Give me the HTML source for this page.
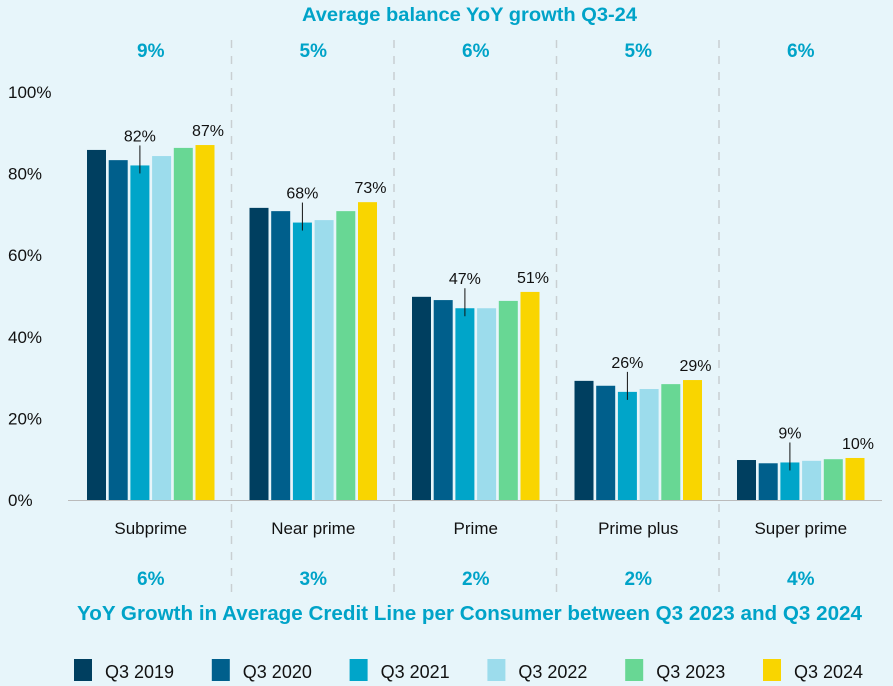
<!DOCTYPE html>
<html><head><meta charset="utf-8"><style>
html,body{margin:0;padding:0;background:#e7f5fa;}
svg{display:block;font-family:"Liberation Sans",sans-serif;}
</style></head><body>
<svg id="c" width="893" height="686" viewBox="0 0 893 686">
<rect width="893" height="686" fill="#e7f5fa"/>
<text x="302" y="21" textLength="335" lengthAdjust="spacingAndGlyphs" font-size="19" font-weight="bold" fill="#00a3c8">Average balance YoY growth Q3-24</text>
<text x="77" y="620" textLength="785" lengthAdjust="spacingAndGlyphs" font-size="20" font-weight="bold" fill="#00a3c8">YoY Growth in Average Credit Line per Consumer between Q3 2023 and Q3 2024</text>
<g id="g"></g>
</svg>
<script>
const categories = ["Subprime","Near prime","Prime","Prime plus","Super prime"];
const seriesNames = ["Q3 2019","Q3 2020","Q3 2021","Q3 2022","Q3 2023","Q3 2024"];
const s2019 = [85.8,71.6,49.8,29.2,9.8];
const s2020 = [83.3,70.8,49.0,28.0,9.0];
const s2021 = [82,68,47,26.5,9.2];
const s2022 = [84.3,68.6,47.0,27.2,9.6];
const s2023 = [86.3,70.8,48.8,28.4,10.0];
const s2024 = [87,73,51,29.4,10.3];
const label2021 = ["82%","68%","47%","26%","9%"];
const label2024 = ["87%","73%","51%","29%","10%"];
const topGrowth = ["9%","5%","6%","5%","6%"];
const bottomGrowth = ["6%","3%","2%","2%","4%"];
const yTicks = [0,20,40,60,80,100];
const colors = ["#003f60","#005f8c","#00a5c9","#9cdcec","#68d794","#f9d500"];
const series = [s2019,s2020,s2021,s2022,s2023,s2024];

const NS="http://www.w3.org/2000/svg";
const g=document.getElementById('g');
const y0=500, pxPer=4.08;
const yS=v=>y0-v*pxPer;
const groupStart=i=>87+i*162.5;
const barW=19, barStep=21.7;
function mk(t,a,txt){const e=document.createElementNS(NS,t);for(const k in a)e.setAttribute(k,a[k]);if(txt!==undefined)e.textContent=txt;g.appendChild(e);return e;}

yTicks.forEach(t=>{
  const e=mk('text',{x:8,y:yS(t)+6,'font-size':17,fill:'#111'},t+'%');
  
  
});
const ax=mk('line',{x1:68,x2:882,y1:y0+0.5,y2:y0+0.5,stroke:'#bbb','stroke-width':1});



for(let i=1;i<categories.length;i++){
  const x=groupStart(i)-18;
  const d=mk('line',{x1:x,x2:x,y1:40,y2:592,stroke:'#c9cfd2','stroke-width':1.5,'stroke-dasharray':'8,8'});
  
  
}

categories.forEach((c,i)=>{
  const cx=groupStart(i)+ (5*barStep+barW)/2;
  const t=mk('text',{x:cx,y:534,'text-anchor':'middle','font-size':17,fill:'#111'},c);
  
  
  const tg=mk('text',{x:cx,y:57,'text-anchor':'middle','font-size':19,'font-weight':'bold',fill:'#00a3c8'},topGrowth[i]);
  
  
  const bg=mk('text',{x:cx,y:585,'text-anchor':'middle','font-size':19,'font-weight':'bold',fill:'#00a3c8'},bottomGrowth[i]);
  
  
  series.forEach((s,j)=>{
    const x=groupStart(i)+j*barStep;
    const r=mk('rect',{x:x,y:yS(s[i]),width:barW,height:s[i]*pxPer,fill:colors[j]});
    
    
  });
  const x21=groupStart(i)+2*barStep+barW/2;
  const top21=yS(s2021[i]);
  const ln=mk('line',{x1:x21,x2:x21,y1:top21-20,y2:top21+8,stroke:'#111','stroke-width':1});
  
  
  const l1=mk('text',{x:x21,y:top21-24,'text-anchor':'middle','font-size':16,fill:'#111'},label2021[i]);
  
  
  const x24=groupStart(i)+5*barStep+barW/2;
  const l2=mk('text',{x:x24+3,y:yS(s2024[i])-9,'text-anchor':'middle','font-size':16,fill:'#111'},label2024[i]);
  
  
});

seriesNames.forEach((n,j)=>{
  const x=74+j*137.8;
  const r=mk('rect',{x:x,y:659,width:18,height:22,fill:colors[j]});
  
  
  const t=mk('text',{x:x+31,y:678,'font-size':18,fill:'#111'},n);
  
  
});
</script>
</body></html>
